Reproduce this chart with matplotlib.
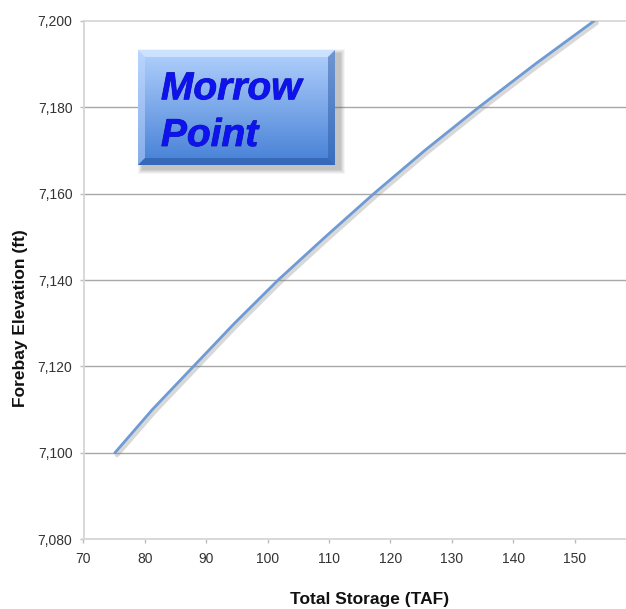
import numpy as np
import matplotlib
matplotlib.use("Agg")
import matplotlib.pyplot as plt
import matplotlib.patheffects as pe
from matplotlib.patches import Polygon, Rectangle, FancyBboxPatch

# Elevation-capacity readings for Morrow Point reservoir
elevation_ft = [7100, 7110, 7120, 7130, 7140, 7150, 7160, 7170, 7180, 7190, 7200]
storage_taf = [75.1, 81.2, 87.9, 94.6, 101.7, 109.4, 117.3, 125.6, 134.4, 143.6, 153.2]

x_ticks = [70, 80, 90, 100, 110, 120, 130, 140, 150]
y_ticks = [7080, 7100, 7120, 7140, 7160, 7180, 7200]
y_tick_labels = ["7,080", "7,100", "7,120", "7,140", "7,160", "7,180", "7,200"]

plt.rcParams["font.family"] = ["Liberation Sans", "DejaVu Sans"]

W, H = 626, 609
fig = plt.figure(figsize=(W / 100, H / 100), dpi=100)
ax = fig.add_axes([83.5 / W, 1 - 539.3 / H, 1 - 83.5 / W, (539.3 - 20.7) / H])

ax.set_xlim(70, 70 + (W - 83.5) / 6.14)
ax.set_ylim(7080, 7200)

for y in y_ticks[1:-1]:
    ax.axhline(y, color="#a8a8a8", lw=1.0, zorder=1)
ax.axhline(7200, color="#dadada", lw=1.4, zorder=1, clip_on=False)

for s in ["top", "right"]:
    ax.spines[s].set_visible(False)
for s in ["left", "bottom"]:
    ax.spines[s].set_color("#d6d6d6")
    ax.spines[s].set_linewidth(1.3)

ax.set_xticks(x_ticks)
ax.set_yticks(y_ticks)
ax.set_yticklabels(y_tick_labels)
ax.tick_params(axis="both", colors="#bdbdbd", length=3, width=1, labelsize=10,
               labelcolor="#333333")
ax.tick_params(axis="y", pad=5)
ax.tick_params(axis="x", pad=6)

# storage curve with a soft drop shadow
ax.plot(storage_taf, elevation_ft, color="#6f9bd4", lw=2.0, zorder=3,
        solid_capstyle="round", solid_joinstyle="round",
        path_effects=[pe.SimpleLineShadow(offset=(1.6, -1.6), shadow_color="#808080",
                                          alpha=0.3, linewidth=3.2),
                      pe.Normal()])

fig.text(21 / W, 1 - 318.5 / H, "Forebay Elevation (ft)", fontsize=12.5,
         fontweight="bold", rotation=90, ha="center", va="center", color="#111111")
fig.text(370 / W, 1 - 599.5 / H, "Total Storage (TAF)", fontsize=12.5,
         fontweight="bold", ha="center", va="center", color="#111111")

# title box: soft shadow, vertical gradient and bevelled edges
bx0, by0, bw, bh = 138, 50, 197, 115
sax = fig.add_axes([0, 0, 1, 1])
sax.axis("off")
sax.set_xlim(0, W)
sax.set_ylim(H, 0)
for k, a in zip(range(5, 0, -1), [0.06, 0.07, 0.08, 0.09, 0.10]):
    sax.add_patch(Rectangle((bx0 + 5 - k, by0 + 4 - k), bw + 2 * k, bh + 2 * k,
                            color="#555555", alpha=a, lw=0))

bax = fig.add_axes([bx0 / W, 1 - (by0 + bh) / H, bw / W, bh / H])
bax.axis("off")
bax.set_xlim(0, 1)
bax.set_ylim(0, 1)
grad = np.linspace(0, 1, 256).reshape(-1, 1)
top = np.array([0.70, 0.82, 0.99])
bot = np.array([0.27, 0.50, 0.84])
img = top[None, None, :] * (1 - grad[..., None]) + bot[None, None, :] * grad[..., None]
bax.imshow(img, extent=(0, 1, 0, 1), aspect="auto", origin="upper", zorder=0)
ex, ey = 7 / bw, 7 / bh
bax.add_patch(Polygon([[0, 1], [1, 1], [1 - ex, 1 - ey], [ex, 1 - ey]],
                      color="#d8eaff", alpha=0.7, lw=0, zorder=1))
bax.add_patch(Polygon([[0, 0], [0, 1], [ex, 1 - ey], [ex, ey]],
                      color="#c4dafd", alpha=0.5, lw=0, zorder=1))
bax.add_patch(Polygon([[1, 0], [1, 1], [1 - ex, 1 - ey], [1 - ex, ey]],
                      color="#2d5ca6", alpha=0.5, lw=0, zorder=1))
bax.add_patch(Polygon([[0, 0], [1, 0], [1 - ex, ey], [ex, ey]],
                      color="#28579e", alpha=0.55, lw=0, zorder=1))

title_fx = [pe.withStroke(linewidth=0.6, foreground="#1a1aa0")]
fig.text(161 / W, 1 - 99.3 / H, "Morrow", fontsize=28, fontweight="bold",
         fontstyle="italic", color="#0d12ee", va="baseline", ha="left",
         path_effects=title_fx)
fig.text(161 / W, 1 - 146 / H, "Point", fontsize=28, fontweight="bold",
         fontstyle="italic", color="#0d12ee", va="baseline", ha="left",
         path_effects=title_fx)

fig.savefig("out.png", dpi=100)
